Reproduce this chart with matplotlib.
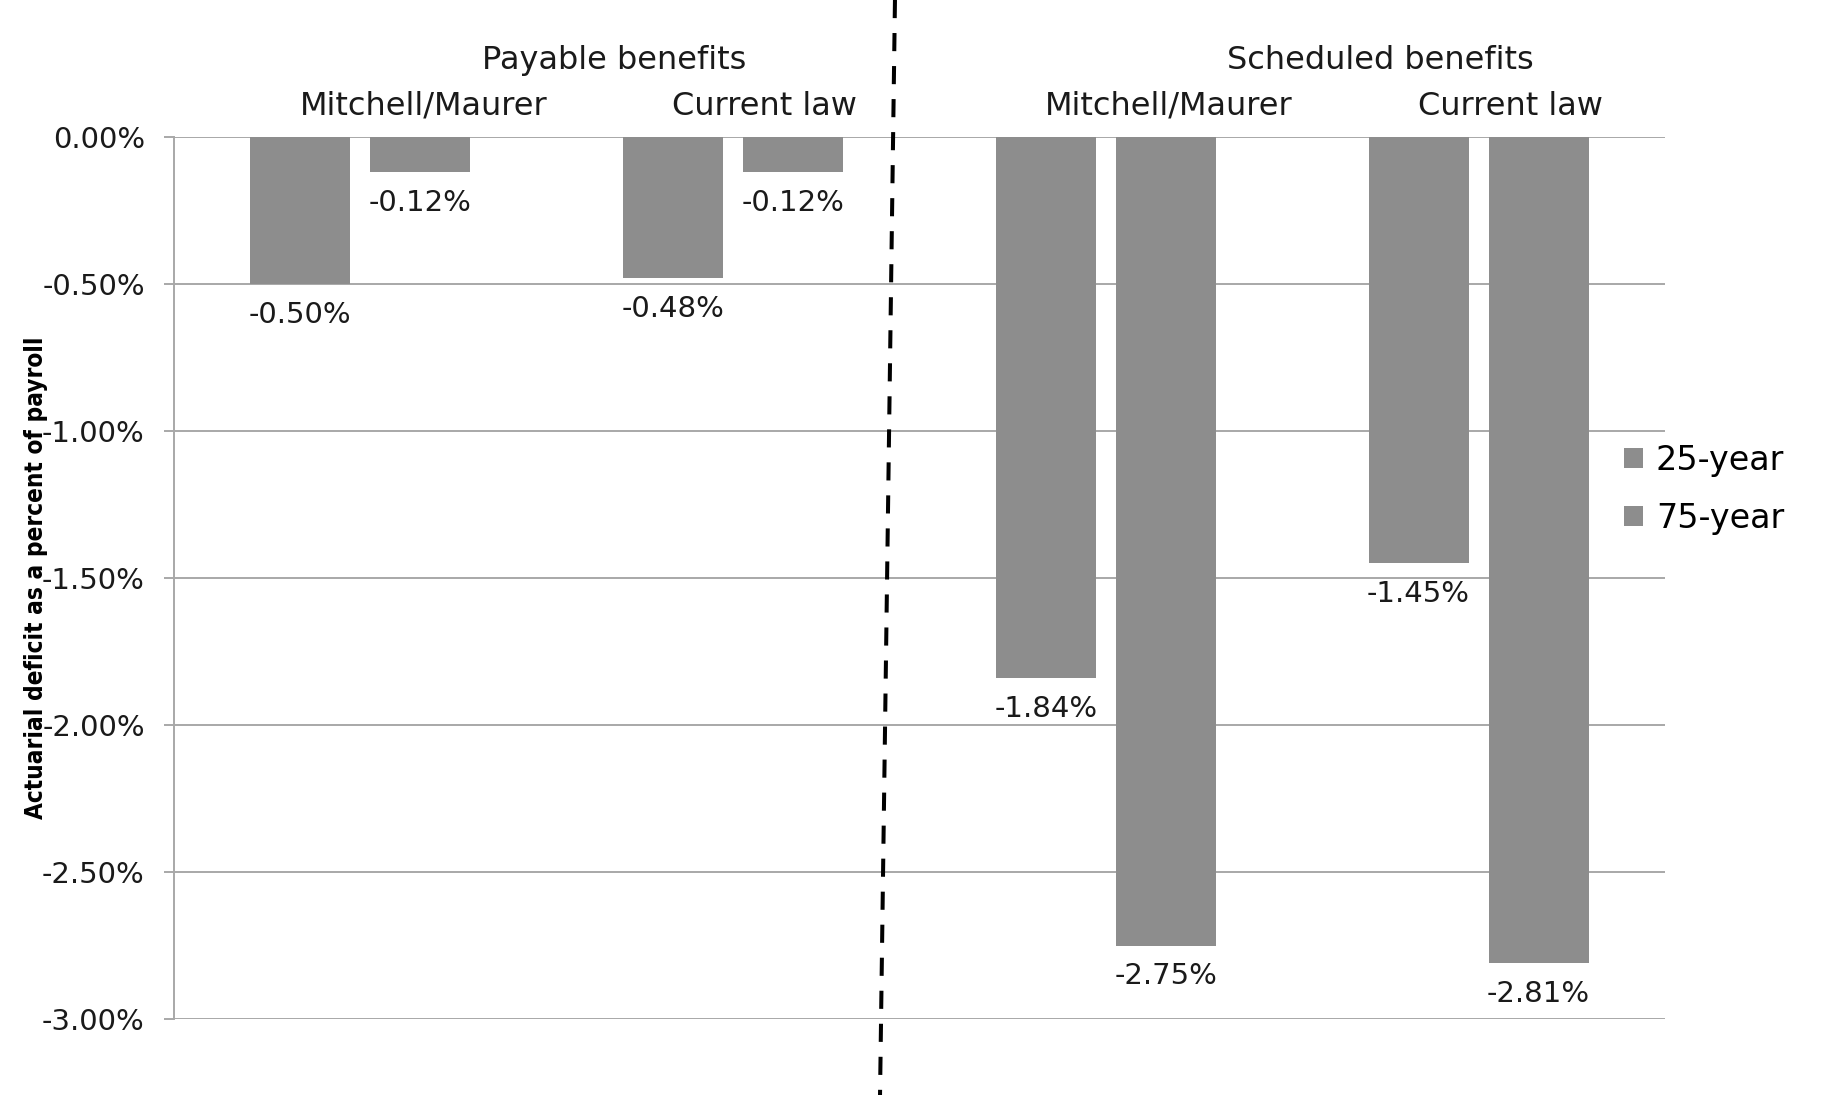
import matplotlib
matplotlib.use("Agg")
import matplotlib.pyplot as plt
from matplotlib.lines import Line2D
import numpy as np

groups = ['Payable\nMitchell/Maurer', 'Payable\nCurrent law',
          'Scheduled\nMitchell/Maurer', 'Scheduled\nCurrent law']
series = ['25-year', '75-year']
vals_25 = [-0.50, -0.48, -1.84, -1.45]
vals_75 = [-0.12, -0.12, -2.75, -2.81]
sub_labels = ['Mitchell/Maurer', 'Current law', 'Mitchell/Maurer', 'Current law']
top_labels = ['Payable benefits', 'Scheduled benefits']
yticks = [0.0, -0.5, -1.0, -1.5, -2.0, -2.5, -3.0]

bar_col = '#8d8d8d'
grid_col = '#a8a8a8'

fig = plt.figure(figsize=(18.22, 10.95), dpi=100)
ax = fig.add_axes([0.0955, 0.0694, 0.9138 - 0.0955, 0.8749 - 0.0694])

x = np.arange(len(groups))
w = 0.268
off = 0.161
b1 = ax.bar(x - off, vals_25, width=w, color=bar_col, label=series[0], zorder=2)
b2 = ax.bar(x + off, vals_75, width=w, color=bar_col, label=series[1], zorder=2)

ax.set_xlim(-0.5, len(groups) - 0.5)
ax.set_ylim(-3.0, 0.0)
ax.set_yticks(yticks)
ax.set_yticklabels(['%.2f%%' % v if v != 0 else '0.00%' for v in yticks],
                   fontsize=21, color='#1a1a1a')
ax.set_xticks([])
ax.yaxis.grid(True, color=grid_col, linewidth=1.4, zorder=0)
for s in ['top', 'right', 'bottom']:
    ax.spines[s].set_visible(False)
ax.spines['left'].set_color(grid_col)
ax.spines['left'].set_linewidth(1.4)
ax.tick_params(axis='y', direction='out', length=7, color=grid_col, width=1.4, pad=14)

# data labels under each bar
for bars in (b1, b2):
    for r in bars:
        v = r.get_height()
        ax.annotate('%.2f%%' % v, (r.get_x() + r.get_width() / 2, v),
                    xytext=(0, -22), textcoords='offset points',
                    ha='center', va='center', fontsize=21, color='#1a1a1a')

# group headers
sub_dx = [0.17, 0.085, 0.17, 0.085]
for i, lab in enumerate(sub_labels):
    ax.text(i + sub_dx[i], 0.105, lab, ha='center', va='center',
            fontsize=23, color='#1a1a1a', clip_on=False)
ax.text(0.68, 0.26, top_labels[0], ha='center', va='center', fontsize=23,
        color='#1a1a1a', clip_on=False)
ax.text(2.736, 0.26, top_labels[1], ha='center', va='center', fontsize=23,
        color='#1a1a1a', clip_on=False)

fig.text(0.02, 0.472, 'Actuarial deficit as a percent of payroll', rotation=90,
         ha='center', va='center', fontsize=17.5, fontweight='bold',
         family='DejaVu Sans', fontstretch='condensed')

# divider between payable and scheduled
fig.add_artist(Line2D([0.4912, 0.483], [1.0, 0.0], transform=fig.transFigure,
                      color='black', linewidth=2.9, linestyle=(0, (4.5, 3.7))))

fig.legend(handles=[b1, b2], labels=series, loc='center left',
           bbox_to_anchor=(0.875, 0.553), frameon=False, fontsize=24,
           handlelength=0.55, handleheight=0.55, handletextpad=0.4,
           labelspacing=0.75)

fig.savefig('out.png', dpi=100)
